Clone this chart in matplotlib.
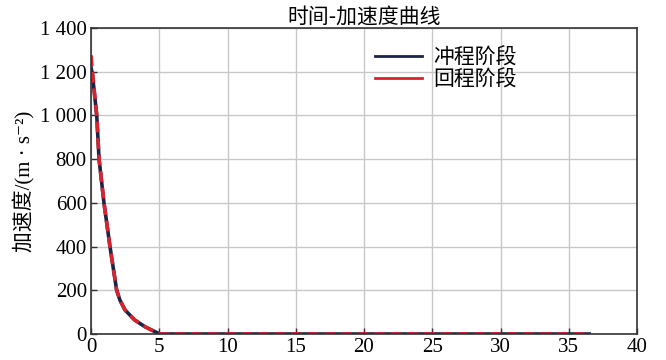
import numpy as np
import matplotlib.pyplot as plt
from matplotlib.ticker import FuncFormatter

# data
t_stroke = [0, 0.1, 0.42, 0.59, 0.95, 1.39, 1.88, 2.12, 2.49, 3.2, 3.96, 4.44, 5.05, 36.5]
a_stroke = [1220, 1190, 1000, 800, 600, 400, 200, 155, 110, 64, 33, 18, 0, 0]
t_return = [0, 0.1, 0.42, 0.59, 0.95, 1.39, 1.88, 2.12, 2.49, 3.2, 3.96, 4.44, 5.05, 36.5]
a_return = [1275, 1200, 1000, 800, 600, 400, 200, 155, 110, 64, 33, 18, 0, 0]

serif = ['Liberation Serif', 'Noto Sans CJK SC', 'DejaVu Sans']
cjk = ['Noto Sans CJK SC', 'DejaVu Sans']

fig = plt.figure(figsize=(6.66, 3.6), dpi=100)
ax = fig.add_axes([91/666, 1-334/360, (637-91)/666, (334-28)/360])

l1, = ax.plot(t_stroke, a_stroke, color='#1c2447', lw=2.6, label='冲程阶段')
l2, = ax.plot(t_return, a_return, color='#d8232f', lw=2.6, ls=(0, (3, 1.6)), label='回程阶段')

ax.set_xlim(0, 40)
ax.set_ylim(0, 1400)
ax.set_xticks(np.arange(0, 41, 5))
ax.set_yticks(np.arange(0, 1401, 200))
ax.yaxis.set_major_formatter(FuncFormatter(lambda v, p: f'{int(v):,}'.replace(',', ' ')))
ax.grid(True, color='#c8c8c8', lw=1)
ax.tick_params(direction='in', length=4, width=1, color='#333333', pad=3)
for lab in ax.get_xticklabels() + ax.get_yticklabels():
    lab.set_family(serif)
    lab.set_fontsize(15)
for s in ax.spines.values():
    s.set_color('#333333')
    s.set_linewidth(1.2)

ax.set_title('时间-加速度曲线', family=cjk, fontsize=15, pad=2)
ax.set_ylabel('加速度/(m · s⁻²)', family=serif, fontsize=15, labelpad=3)

leg = ax.legend(handles=[l1, l2], loc='upper left', bbox_to_anchor=(0.485, 1.0),
                frameon=False, prop={'family': cjk, 'size': 15},
                handlelength=2.3, handletextpad=0.5, labelspacing=0.0)
for h in leg.legend_handles:
    h.set_linestyle('-')
    h.set_linewidth(2)

plt.savefig('out.png', dpi=100)
